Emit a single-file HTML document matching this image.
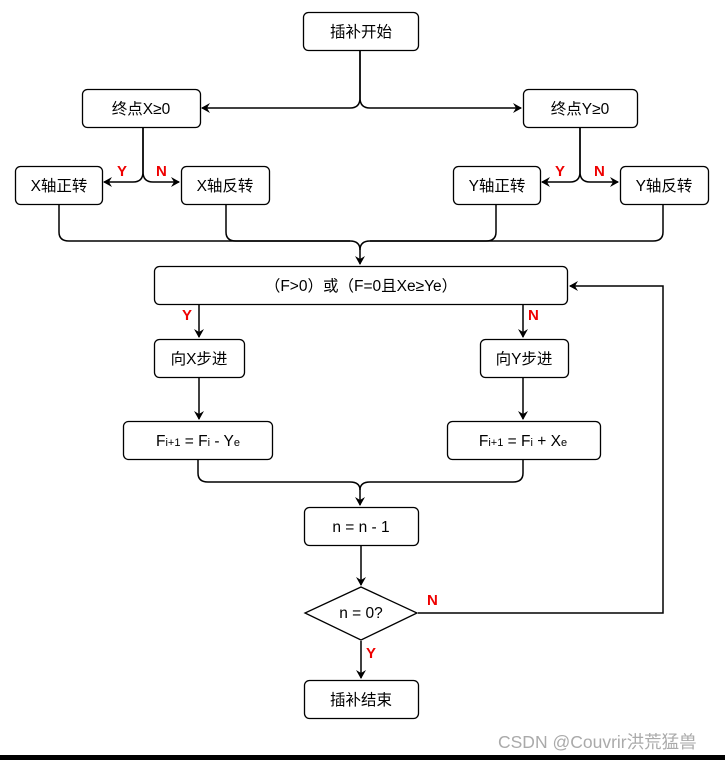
<!DOCTYPE html>
<html><head><meta charset="utf-8"><style>
html,body{margin:0;padding:0;background:#fff;width:725px;height:760px;overflow:hidden}
svg{display:block}
text{font-family:"Liberation Sans","Noto Sans CJK SC",sans-serif;font-size:15.5px;fill:#000}
.r{fill:#e00;font-weight:bold;font-size:15px}
</style></head><body>
<svg width="725" height="760" viewBox="0 0 725 760">
<defs><marker id="a" markerWidth="10" markerHeight="10" refX="8" refY="5" orient="auto" markerUnits="userSpaceOnUse"><path d="M0,0 L9,5 L0,10 L3,5 Z" fill="#000"/></marker></defs>
<g fill="#fff" stroke="#000" stroke-width="1.3">
<rect x="303.5" y="12.5" width="115" height="38" rx="5"/>
<rect x="82.5" y="89.5" width="118" height="38" rx="5"/>
<rect x="523.5" y="89.5" width="114" height="38" rx="5"/>
<rect x="15.5" y="166.5" width="87" height="38" rx="5"/>
<rect x="181.5" y="166.5" width="88" height="38" rx="5"/>
<rect x="453.5" y="166.5" width="87" height="38" rx="5"/>
<rect x="620.5" y="166.5" width="88" height="38" rx="5"/>
<rect x="154.5" y="266.5" width="413" height="38" rx="5"/>
<rect x="154.5" y="339.5" width="90" height="38" rx="5"/>
<rect x="480.5" y="339.5" width="88" height="38" rx="5"/>
<rect x="123.5" y="421.5" width="149" height="38" rx="5"/>
<rect x="447.5" y="421.5" width="153" height="38" rx="5"/>
<rect x="304.5" y="507.5" width="114" height="38" rx="5"/>
<path d="M361,587 L417,613 L361,640 L305,613 Z"/>
<rect x="304.5" y="680.5" width="114" height="38" rx="5"/>
</g>
<g fill="none" stroke="#000" stroke-width="1.5">
<path d="M360,51 V98 Q360,108 350,108 H202" marker-end="url(#a)"/>
<path d="M360,51 V98 Q360,108 370,108 H521" marker-end="url(#a)"/>
<path d="M143,128 V172 Q143,182 133,182 H104" marker-end="url(#a)"/>
<path d="M143,128 V172 Q143,182 153,182 H179" marker-end="url(#a)"/>
<path d="M580,128 V172 Q580,182 570,182 H542" marker-end="url(#a)"/>
<path d="M580,128 V172 Q580,182 590,182 H618" marker-end="url(#a)"/>
<path d="M59,205 V232 Q59,241 69,241 H350 Q360,241 360,250 V264" marker-end="url(#a)"/>
<path d="M226,205 V232 Q226,241 236,241 H350"/>
<path d="M496,205 V232 Q496,241 486,241 H370 Q360,241 360,250"/>
<path d="M663,205 V232 Q663,241 653,241 H370"/>
<path d="M199,305 V337" marker-end="url(#a)"/>
<path d="M523,305 V337" marker-end="url(#a)"/>
<path d="M199,378 V419" marker-end="url(#a)"/>
<path d="M523,378 V419" marker-end="url(#a)"/>
<path d="M198,460 V473 Q198,482 208,482 H350 Q360,482 360,490 V505" marker-end="url(#a)"/>
<path d="M523,460 V473 Q523,482 513,482 H370 Q360,482 360,490"/>
<path d="M361,546 V585" marker-end="url(#a)"/>
<path d="M361,641 V678" marker-end="url(#a)"/>
<path d="M418,613 H663 V286 H570" marker-end="url(#a)"/>
</g>
<g text-anchor="middle">
<text x="361" y="37">插补开始</text>
<text x="141" y="114">终点X≥0</text>
<text x="580" y="114">终点Y≥0</text>
<text x="59" y="191">X轴正转</text>
<text x="225" y="191">X轴反转</text>
<text x="497" y="191">Y轴正转</text>
<text x="664" y="191">Y轴反转</text>
<text x="361" y="291">（F&gt;0）或（F=0且Xe≥Ye）</text>
<text x="199" y="364">向X步进</text>
<text x="524" y="364">向Y步进</text>
<text x="198" y="446">F<tspan font-size="11">i+1</tspan> = F<tspan font-size="11">i</tspan> - Y<tspan font-size="11">e</tspan></text>
<text x="523" y="446">F<tspan font-size="11">i+1</tspan> = F<tspan font-size="11">i</tspan> + X<tspan font-size="11">e</tspan></text>
<text x="361" y="532">n = n - 1</text>
<text x="361" y="618">n = 0?</text>
<text x="361" y="705">插补结束</text>
</g>
<text class="r" x="117" y="176">Y</text>
<text class="r" x="156" y="176">N</text>
<text class="r" x="555" y="176">Y</text>
<text class="r" x="594" y="176">N</text>
<text class="r" x="182" y="320">Y</text>
<text class="r" x="528" y="320">N</text>
<text class="r" x="427" y="605">N</text>
<text class="r" x="366" y="658">Y</text>
<text x="498" y="748" style="fill:#aaa;font-size:17.5px">CSDN @Couvrir洪荒猛兽</text>
<rect x="0" y="755" width="725" height="5" fill="#000"/>
</svg>
</body></html>
